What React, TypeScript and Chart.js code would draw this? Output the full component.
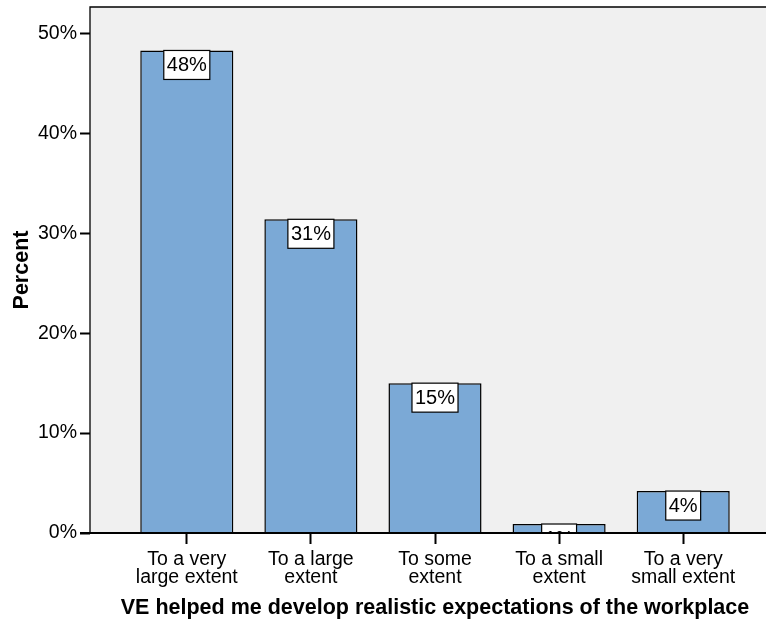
import React, { useEffect, useRef } from "react";
import { Chart, registerables } from "chart.js";

Chart.register(...registerables);

const CATEGORIES: string[][] = [
  ["To a very", "large extent"],
  ["To a large", "extent"],
  ["To some", "extent"],
  ["To a small", "extent"],
  ["To a very", "small extent"],
];
const PERCENTS: number[] = [48.3, 31.4, 15.0, 0.9, 4.2];
const Y_TICKS: number[] = [0, 10, 20, 30, 40, 50];
const Y_TITLE = "Percent";
const X_TITLE = "VE helped me develop realistic expectations of the workplace";

const FONT = "'Liberation Sans', Arial, Helvetica, sans-serif";
const BAR_COLOR = "#7BA9D6";
const PLOT_BG = "#F0F0F0";

const framePlugin = {
  id: "frame",
  beforeDraw(chart: any) {
    const { ctx, chartArea: a } = chart;
    ctx.save();
    ctx.fillStyle = PLOT_BG;
    ctx.fillRect(a.left, a.top, a.right - a.left, a.bottom - a.top);
    ctx.restore();
  },
  afterDatasetsDraw(chart: any) {
    const { ctx, chartArea: a } = chart;
    const meta = chart.getDatasetMeta(0);
    ctx.save();
    ctx.beginPath();
    ctx.rect(a.left, a.top, a.right - a.left, a.bottom - a.top + 1);
    ctx.clip();
    ctx.font = `20px ${FONT}`;
    meta.data.forEach((bar: any, i: number) => {
      const text = Math.round(PERCENTS[i]) + "%";
      const w = ctx.measureText(text).width + 6;
      const h = 29;
      const x = bar.x - w / 2;
      const y = bar.y;
      ctx.fillStyle = "#fff";
      ctx.fillRect(x, y, w, h);
      ctx.strokeStyle = "#000";
      ctx.lineWidth = 1.2;
      ctx.strokeRect(x, y, w, h);
      ctx.fillStyle = "#000";
      ctx.textAlign = "center";
      ctx.textBaseline = "middle";
      ctx.fillText(text, bar.x, y + h / 2 + 1);
    });
    ctx.restore();
    ctx.save();
    ctx.strokeStyle = "#000";
    ctx.lineWidth = 1.3;
    ctx.beginPath();
    ctx.moveTo(a.left, a.bottom);
    ctx.lineTo(a.left, a.top);
    ctx.lineTo(a.right, a.top);
    ctx.lineTo(a.right, a.bottom);
    ctx.stroke();
    ctx.lineWidth = 2;
    ctx.beginPath();
    ctx.moveTo(a.left - 10, a.bottom);
    ctx.lineTo(a.right, a.bottom);
    ctx.stroke();
    ctx.restore();
  },
};

export default function App() {
  const ref = useRef<HTMLCanvasElement | null>(null);
  useEffect(() => {
    if (!ref.current) return;
    const chart = new Chart(ref.current, {
      type: "bar",
      data: {
        datasets: [
          {
            data: PERCENTS.map((v, i) => ({ x: i, y: v })),
            backgroundColor: BAR_COLOR,
            borderColor: "#000",
            borderWidth: 1.5,
            barPercentage: 0.75,
            categoryPercentage: 1,
          },
        ],
      },
      options: {
        animation: false,
        responsive: false,
        devicePixelRatio: 1,
        layout: { padding: { top: 7, right: 10, left: 0, bottom: 0 } },
        plugins: { legend: { display: false }, tooltip: { enabled: false } },
        scales: {
          x: {
            type: "linear",
            offset: false,
            min: -0.78,
            max: 4.78,
            afterBuildTicks: (s: any) => {
              s.ticks = CATEGORIES.map((_, i) => ({ value: i }));
            },
            afterFit: (s: any) => {
              s.height = 89;
              s.paddingLeft = 0;
              s.paddingRight = 0;
            },
            ticks: {
              autoSkip: false,
              maxRotation: 0,
              minRotation: 0,
              padding: 7,
              color: "#000",
              font: { family: FONT, size: 19.5, lineHeight: 0.9 },
              callback: (v: any) => CATEGORIES[v as number] ?? "",
            },
            grid: {
              offset: false,
              drawOnChartArea: false,
              drawTicks: true,
              tickLength: 11,
              tickWidth: 2,
              tickColor: "#000",
            },
            border: { display: false },
            title: {
              display: true,
              text: X_TITLE,
              color: "#000",
              font: { family: FONT, size: 21.5, weight: "bold" },
              padding: { top: 0, bottom: 1 },
            },
          },
          y: {
            type: "linear",
            min: 0,
            max: 52.65,
            afterBuildTicks: (s: any) => {
              s.ticks = Y_TICKS.map((v) => ({ value: v }));
            },
            afterFit: (s: any) => {
              s.width = 90;
              s.paddingTop = 0;
              s.paddingBottom = 0;
            },
            ticks: {
              padding: 3,
              color: "#000",
              font: { family: FONT, size: 19.5 },
              callback: (v: any) => v + "%",
            },
            grid: {
              drawOnChartArea: false,
              drawTicks: true,
              tickLength: 10,
              tickWidth: 2,
              tickColor: "#000",
            },
            border: { display: false },
            title: {
              display: true,
              text: Y_TITLE,
              color: "#000",
              font: { family: FONT, size: 21.5, weight: "bold" },
              padding: { top: 9, bottom: 0 },
            },
          },
        },
      },
      plugins: [framePlugin],
    } as any);
    return () => chart.destroy();
  }, []);
  return (
    <div
      style={{
        position: "absolute",
        left: 0,
        top: 0,
        width: 766,
        height: 622,
        overflow: "hidden",
        background: "#fff",
      }}
    >
      <canvas ref={ref} width={790} height={622} style={{ display: "block", width: 790, height: 622 }} />
    </div>
  );
}
